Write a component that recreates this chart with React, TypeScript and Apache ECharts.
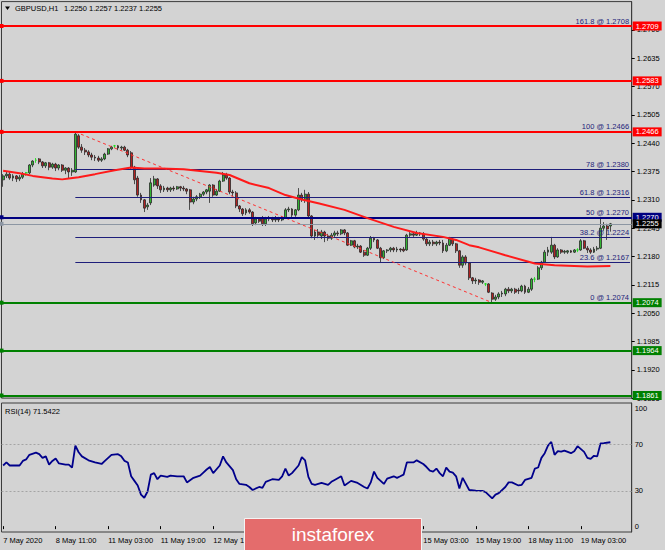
import React, { useEffect, useRef } from "react";
import * as echarts from "echarts";

// ---------- texts ----------
const SYMBOL = "GBPUSD,H1";
const OHLC_HEADER = ["1.2250", "1.2257", "1.2237", "1.2255"];
const RSI_LABEL = "RSI(14) 71.5422";
const LOGO_TEXT = "instaforex";

// ---------- x axis ----------
const X_TICK_LABELS = [
  "7 May 2020", "8 May 11:00", "11 May 03:00", "11 May 19:00", "12 May 11:00", "13 May 03:00",
  "13 May 19:00", "14 May 11:00", "15 May 03:00", "15 May 19:00", "18 May 11:00", "19 May 03:00",
];
const X_TICK_STEP = 16;
const SLOT_COUNT = 192;

// ---------- price axis ----------
const PRICE_AXIS_BASE = 1.1855;
const PRICE_AXIS_STEP = 0.0065;
const PRICE_AXIS_TOP = 1.2765;

// ---------- candles: [open, close, low, high] ----------
const CANDLES: number[][] = [
  [1.2356, 1.2365, 1.2340, 1.2369], [1.2365, 1.2369, 1.2360, 1.2374], [1.2369, 1.2360, 1.2356, 1.2374], [1.2360, 1.2365, 1.2353, 1.2369],
  [1.2365, 1.2358, 1.2351, 1.2367], [1.2358, 1.2362, 1.2353, 1.2367], [1.2362, 1.2369, 1.2358, 1.2374], [1.2372, 1.2372, 1.2365, 1.2374],
  [1.2372, 1.2390, 1.2369, 1.2392], [1.2390, 1.2399, 1.2385, 1.2401], [1.2401, 1.2401, 1.2395, 1.2406], [1.2404, 1.2397, 1.2392, 1.2406],
  [1.2397, 1.2388, 1.2383, 1.2399], [1.2388, 1.2395, 1.2383, 1.2397], [1.2395, 1.2385, 1.2378, 1.2397], [1.2385, 1.2392, 1.2381, 1.2395],
  [1.2392, 1.2383, 1.2376, 1.2395], [1.2383, 1.2390, 1.2378, 1.2392], [1.2390, 1.2378, 1.2374, 1.2392], [1.2378, 1.2383, 1.2369, 1.2385],
  [1.2383, 1.2374, 1.2358, 1.2385], [1.2374, 1.2378, 1.2365, 1.2383], [1.2374, 1.2461, 1.2372, 1.2466], [1.2457, 1.2431, 1.2427, 1.2461],
  [1.2431, 1.2424, 1.2418, 1.2438], [1.2424, 1.2420, 1.2413, 1.2429], [1.2420, 1.2413, 1.2408, 1.2424], [1.2413, 1.2408, 1.2401, 1.2418],
  [1.2408, 1.2406, 1.2399, 1.2413], [1.2406, 1.2401, 1.2397, 1.2411], [1.2401, 1.2404, 1.2397, 1.2408], [1.2404, 1.2415, 1.2401, 1.2418],
  [1.2415, 1.2427, 1.2413, 1.2429], [1.2427, 1.2431, 1.2424, 1.2434], [1.2434, 1.2434, 1.2429, 1.2436], [1.2434, 1.2429, 1.2424, 1.2436],
  [1.2429, 1.2431, 1.2424, 1.2434], [1.2431, 1.2424, 1.2422, 1.2434], [1.2424, 1.2413, 1.2408, 1.2427], [1.2418, 1.2385, 1.2381, 1.2422],
  [1.2385, 1.2356, 1.2346, 1.2388], [1.2360, 1.2321, 1.2317, 1.2365], [1.2321, 1.2310, 1.2303, 1.2326], [1.2310, 1.2291, 1.2282, 1.2312],
  [1.2294, 1.2298, 1.2287, 1.2303], [1.2303, 1.2349, 1.2298, 1.2360], [1.2344, 1.2358, 1.2340, 1.2365], [1.2358, 1.2342, 1.2335, 1.2360],
  [1.2342, 1.2333, 1.2326, 1.2346], [1.2333, 1.2337, 1.2328, 1.2342], [1.2337, 1.2333, 1.2328, 1.2340], [1.2333, 1.2337, 1.2328, 1.2340],
  [1.2337, 1.2335, 1.2330, 1.2342], [1.2335, 1.2340, 1.2333, 1.2342], [1.2340, 1.2337, 1.2330, 1.2342], [1.2337, 1.2335, 1.2330, 1.2342],
  [1.2335, 1.2330, 1.2323, 1.2337], [1.2333, 1.2305, 1.2287, 1.2335], [1.2305, 1.2312, 1.2300, 1.2317], [1.2312, 1.2317, 1.2307, 1.2321],
  [1.2317, 1.2323, 1.2312, 1.2326], [1.2323, 1.2328, 1.2319, 1.2330], [1.2328, 1.2333, 1.2323, 1.2335], [1.2330, 1.2344, 1.2303, 1.2346],
  [1.2344, 1.2321, 1.2317, 1.2346], [1.2321, 1.2330, 1.2319, 1.2335], [1.2330, 1.2353, 1.2328, 1.2356], [1.2353, 1.2367, 1.2351, 1.2374],
  [1.2367, 1.2360, 1.2356, 1.2372], [1.2360, 1.2328, 1.2323, 1.2362], [1.2328, 1.2326, 1.2319, 1.2333], [1.2326, 1.2296, 1.2291, 1.2330],
  [1.2296, 1.2289, 1.2282, 1.2298], [1.2289, 1.2278, 1.2273, 1.2291], [1.2280, 1.2287, 1.2275, 1.2291], [1.2287, 1.2282, 1.2278, 1.2291],
  [1.2282, 1.2255, 1.2250, 1.2284], [1.2257, 1.2266, 1.2252, 1.2271], [1.2266, 1.2261, 1.2257, 1.2268], [1.2268, 1.2255, 1.2250, 1.2273],
  [1.2255, 1.2266, 1.2250, 1.2271], [1.2266, 1.2268, 1.2261, 1.2273], [1.2268, 1.2264, 1.2259, 1.2271], [1.2264, 1.2266, 1.2259, 1.2273],
  [1.2266, 1.2264, 1.2259, 1.2271], [1.2264, 1.2268, 1.2261, 1.2273], [1.2268, 1.2287, 1.2266, 1.2291], [1.2287, 1.2289, 1.2282, 1.2294],
  [1.2289, 1.2275, 1.2268, 1.2291], [1.2275, 1.2287, 1.2271, 1.2289], [1.2287, 1.2321, 1.2284, 1.2337], [1.2321, 1.2310, 1.2305, 1.2326],
  [1.2310, 1.2323, 1.2303, 1.2333], [1.2323, 1.2273, 1.2268, 1.2328], [1.2273, 1.2227, 1.2222, 1.2275], [1.2227, 1.2236, 1.2218, 1.2241],
  [1.2236, 1.2229, 1.2222, 1.2243], [1.2227, 1.2236, 1.2220, 1.2241], [1.2236, 1.2227, 1.2213, 1.2239], [1.2227, 1.2222, 1.2216, 1.2232],
  [1.2222, 1.2229, 1.2218, 1.2234], [1.2229, 1.2234, 1.2225, 1.2239], [1.2234, 1.2232, 1.2227, 1.2239], [1.2232, 1.2241, 1.2229, 1.2243],
  [1.2241, 1.2234, 1.2229, 1.2243], [1.2234, 1.2206, 1.2204, 1.2236], [1.2206, 1.2216, 1.2204, 1.2218], [1.2216, 1.2202, 1.2199, 1.2218],
  [1.2202, 1.2204, 1.2197, 1.2209], [1.2204, 1.2190, 1.2188, 1.2206], [1.2190, 1.2183, 1.2179, 1.2195], [1.2183, 1.2199, 1.2181, 1.2202],
  [1.2199, 1.2222, 1.2195, 1.2227], [1.2222, 1.2218, 1.2213, 1.2225], [1.2218, 1.2199, 1.2197, 1.2220], [1.2199, 1.2177, 1.2165, 1.2202],
  [1.2177, 1.2193, 1.2174, 1.2195], [1.2193, 1.2195, 1.2188, 1.2197], [1.2195, 1.2199, 1.2190, 1.2202], [1.2199, 1.2195, 1.2190, 1.2202],
  [1.2195, 1.2197, 1.2190, 1.2202], [1.2197, 1.2195, 1.2190, 1.2199], [1.2197, 1.2193, 1.2190, 1.2202], [1.2195, 1.2229, 1.2193, 1.2232],
  [1.2229, 1.2232, 1.2225, 1.2236], [1.2232, 1.2229, 1.2225, 1.2234], [1.2229, 1.2234, 1.2227, 1.2239], [1.2234, 1.2232, 1.2227, 1.2236],
  [1.2232, 1.2220, 1.2216, 1.2236], [1.2220, 1.2209, 1.2204, 1.2222], [1.2209, 1.2213, 1.2204, 1.2218], [1.2213, 1.2209, 1.2204, 1.2218],
  [1.2209, 1.2213, 1.2204, 1.2216], [1.2213, 1.2211, 1.2206, 1.2218], [1.2211, 1.2193, 1.2188, 1.2218], [1.2193, 1.2206, 1.2190, 1.2211],
  [1.2206, 1.2220, 1.2204, 1.2225], [1.2220, 1.2209, 1.2204, 1.2222], [1.2209, 1.2193, 1.2188, 1.2211], [1.2193, 1.2160, 1.2154, 1.2195],
  [1.2160, 1.2179, 1.2154, 1.2183], [1.2179, 1.2165, 1.2160, 1.2183], [1.2165, 1.2131, 1.2126, 1.2167], [1.2131, 1.2124, 1.2117, 1.2133],
  [1.2124, 1.2126, 1.2117, 1.2131], [1.2126, 1.2121, 1.2115, 1.2128], [1.2121, 1.2124, 1.2117, 1.2126], [1.2117, 1.2117, 1.2112, 1.2119],
  [1.2117, 1.2098, 1.2096, 1.2119], [1.2096, 1.2082, 1.2075, 1.2098], [1.2082, 1.2087, 1.2078, 1.2092], [1.2087, 1.2094, 1.2082, 1.2098],
  [1.2094, 1.2096, 1.2087, 1.2101], [1.2094, 1.2105, 1.2089, 1.2108], [1.2105, 1.2101, 1.2096, 1.2110], [1.2101, 1.2105, 1.2096, 1.2108],
  [1.2105, 1.2098, 1.2094, 1.2108], [1.2103, 1.2101, 1.2094, 1.2108], [1.2101, 1.2112, 1.2098, 1.2115], [1.2112, 1.2098, 1.2094, 1.2115],
  [1.2098, 1.2105, 1.2096, 1.2110], [1.2105, 1.2128, 1.2101, 1.2131], [1.2128, 1.2128, 1.2121, 1.2133], [1.2128, 1.2154, 1.2126, 1.2158],
  [1.2154, 1.2167, 1.2149, 1.2170], [1.2167, 1.2190, 1.2165, 1.2195], [1.2190, 1.2195, 1.2181, 1.2202], [1.2190, 1.2206, 1.2186, 1.2225],
  [1.2206, 1.2179, 1.2174, 1.2209], [1.2179, 1.2195, 1.2177, 1.2199], [1.2195, 1.2190, 1.2186, 1.2197], [1.2190, 1.2192, 1.2186, 1.2195],
  [1.2190, 1.2193, 1.2186, 1.2195], [1.2193, 1.2190, 1.2188, 1.2195], [1.2190, 1.2195, 1.2188, 1.2197], [1.2195, 1.2195, 1.2190, 1.2199],
  [1.2195, 1.2216, 1.2193, 1.2220], [1.2216, 1.2199, 1.2197, 1.2218], [1.2199, 1.2195, 1.2188, 1.2204], [1.2195, 1.2190, 1.2186, 1.2199],
  [1.2190, 1.2197, 1.2188, 1.2202], [1.2197, 1.2199, 1.2193, 1.2204], [1.2199, 1.2245, 1.2197, 1.2271], [1.2245, 1.2250, 1.2239, 1.2259],
  [1.2250, 1.2243, 1.2218, 1.2255], [1.2250, 1.2255, 1.2237, 1.2257],
];

// ---------- moving average [bar index, price] ----------
const MA_POINTS: number[][] = [
  [0, 1.2377], [5, 1.2371], [9, 1.2365], [15, 1.2359], [18, 1.2357], [20, 1.2359], [23, 1.2362], [28, 1.2369],
  [34, 1.2378], [39, 1.2384], [43, 1.2382], [48, 1.2382], [55, 1.2380], [65, 1.2372], [69, 1.2367], [75, 1.2348],
  [81, 1.2337], [86, 1.2321], [91, 1.2311], [96, 1.2302], [104, 1.2287], [111, 1.2268], [119, 1.2248], [126, 1.2234],
  [134, 1.2225], [138, 1.2218], [142, 1.2206], [145, 1.2201], [153, 1.2183], [162, 1.2164], [168, 1.2160], [178, 1.2157],
  [185, 1.2158],
];

// ---------- RSI(14) [bar index, value] ----------
const RSI_POINTS: number[][] = [
  [0, 51.7], [1, 54.3], [2, 51.7], [3, 51.7], [5, 51.7], [6, 55.6], [7, 56.9], [8, 60.8], [10, 62.7], [11, 61.4],
  [12, 58.2], [13, 59.5], [14, 52.5], [15, 55.6], [16, 57.7], [17, 53.5], [19, 52.5], [20, 52.5], [21, 49.9], [22, 68.7],
  [23, 63], [24, 59.5], [26, 56.1], [28, 54.3], [30, 53], [31, 55.6], [33, 60.8], [35, 61.4], [36, 59.5], [37, 55.6],
  [38, 54.3], [39, 42.5], [40, 38.6], [41, 34.7], [42, 26.9], [43, 24.2], [44, 29.5], [45, 43.9], [46, 45.2], [47, 40],
  [48, 43.1], [50, 42], [51, 43.1], [53, 42.5], [55, 42.5], [56, 37.3], [58, 41.2], [60, 43.1], [61, 45.7], [62, 48.3],
  [63, 50.4], [64, 45.2], [66, 51.7], [67, 59.5], [68, 54.3], [70, 47.8], [71, 40], [72, 36], [74, 35.2], [75, 33.4],
  [76, 30.8], [78, 33.4], [79, 32.6], [80, 37.8], [82, 40], [84, 39.4], [85, 42.5], [86, 49.1], [87, 43.1], [88, 45.2],
  [90, 51.7], [91, 58.8], [92, 56], [93, 42], [94, 36], [95, 35.2], [97, 36.8], [99, 35.2], [100, 37.8], [101, 39.4],
  [103, 42.5], [104, 34.7], [106, 38.6], [108, 36.8], [110, 33.4], [111, 32.1], [112, 37.3], [113, 46.5], [114, 41.2], [115, 38.6],
  [116, 36], [117, 40.5], [119, 42.5], [120, 41.2], [121, 42.5], [122, 43.9], [123, 54.3], [125, 54.3], [126, 56.1], [128, 53],
  [129, 50.4], [130, 47.3], [131, 46.5], [132, 49.1], [133, 45.2], [134, 42.5], [135, 49.9], [136, 46.5], [137, 45.7], [138, 42.5],
  [139, 32.1], [140, 41.2], [141, 36], [142, 30.8], [144, 30.3], [146, 30], [147, 29], [149, 23.7], [150, 26.9], [151, 28.2],
  [153, 33.4], [154, 37.3], [155, 37.3], [157, 34.7], [158, 35.2], [159, 39.4], [161, 41.2], [162, 49.1], [163, 50], [164, 58.2],
  [165, 62.2], [166, 68.7], [167, 71.8], [168, 60.8], [169, 63.9], [170, 63.5], [171, 64.4], [173, 62.2], [174, 63.9], [175, 68.2],
  [177, 63.3], [178, 58.2], [179, 57.4], [180, 60], [181, 59.5], [182, 70.5], [183, 70.8], [185, 71.5422],
];
const RSI_TICKS = [0, 30, 70, 100];
const RSI_LEVELS = [70, 30];

// ---------- drawn objects ----------
const RED_LEVELS = [1.2709, 1.2583, 1.2466];
const GREEN_LEVELS = [1.2074, 1.1964, 1.1861];
const BLUE_LEVEL = 1.2270;
const BID_PRICE = 1.2255;
const SQUARE_LEVELS = [1.2709, 1.2466, 1.2270];
const FIB_LEVELS = [0, 23.6, 38.2, 50, 61.8, 78, 100, 161.8];
const FIB_PRICES = [1.2074, 1.2167, 1.2224, 1.2270, 1.2316, 1.2380, 1.2466, 1.2708];
const FIB_START_INDEX = 22;
const TREND_FROM = [22, 1.2466];
const TREND_TO = [149, 1.2074];

// ---------- style ----------
const FONT = '"Liberation Sans", Arial, sans-serif';
const BG = "#d3d3d3";
const FRAME = "#3c3c3c";
const RED = "#ff0000";
const GREEN = "#008000";
const NAVY = "#000080";
const FIB = "#1e1e7a";
const BID = "#8c96a3";

const toPips = (p: number) => Math.round((p - PRICE_AXIS_BASE) * 100000) / 10;
const fromPips = (v: number) => PRICE_AXIS_BASE + v / 10000;

const boxLabel = (p: number, bg: string) => ({
  show: true,
  position: "end",
  distance: 1,
  formatter: p.toFixed(4),
  backgroundColor: bg,
  color: "#ffffff",
  fontSize: 7.5,
  fontFamily: FONT,
  padding: [1, 3, 0, 3],
  lineHeight: 8,
});

const levelLine = (p: number, color: string, width: number) => ({
  yAxis: toPips(p),
  symbol: SQUARE_LEVELS.includes(p) ? ["emptyRect", "none"] : ["none", "none"],
  symbolSize: 4,
  symbolOffset: [[2, 0], [0, 0]],
  lineStyle: { color, width, type: "solid" },
  label: boxLabel(p, color === BID ? "#000000" : color),
});

export default function App() {
  const ref = useRef<HTMLDivElement>(null);

  useEffect(() => {
    if (!ref.current) return;
    const chart = echarts.init(ref.current, null, { renderer: "svg", width: 665, height: 550 });

    const categories = Array.from({ length: SLOT_COUNT }, (_, i) => String(i));
    const tickFn = (index: number) => index % X_TICK_STEP === 0 && index / X_TICK_STEP < X_TICK_LABELS.length;

    const fibLines = FIB_LEVELS.map((lvl, k) => [
      {
        coord: [FIB_START_INDEX, toPips(FIB_PRICES[k])],
        symbol: "none",
        lineStyle: { color: FIB, width: 1, type: "solid" },
        label: {
          show: true,
          position: "insideEndTop",
          distance: [1, 1],
          formatter: `${lvl} @ ${FIB_PRICES[k].toFixed(4)}`,
          color: FIB,
          fontSize: 7.5,
          fontFamily: FONT,
        },
      },
      { coord: [SLOT_COUNT - 1, toPips(FIB_PRICES[k])], symbol: "none" },
    ]);

    const trendLine = [
      {
        coord: [TREND_FROM[0], toPips(TREND_FROM[1])],
        symbol: "none",
        lineStyle: { color: "#ff3030", width: 1, type: [3, 3] },
        label: { show: false },
      },
      { coord: [TREND_TO[0], toPips(TREND_TO[1])], symbol: "none" },
    ];

    const option: any = {
      animation: false,
      backgroundColor: BG,
      textStyle: { fontFamily: FONT },
      grid: [
        { left: 1.5, top: 1.6, width: 630.2, height: 396.5, show: true, borderColor: FRAME, borderWidth: 1 },
        { left: 1.5, top: 403, width: 630.2, height: 129, show: true, borderColor: FRAME, borderWidth: 1 },
      ],
      xAxis: [
        {
          type: "category", gridIndex: 0, data: categories, boundaryGap: true,
          axisLine: { show: false }, axisTick: { show: false }, axisLabel: { show: false }, splitLine: { show: false },
        },
        {
          type: "category", gridIndex: 1, data: categories, boundaryGap: true,
          axisLine: { show: false },
          axisTick: { show: true, interval: tickFn, alignWithLabel: true, length: 3, lineStyle: { color: "#000" } },
          axisLabel: {
            interval: tickFn,
            formatter: (_v: string, i: number) => X_TICK_LABELS[i / X_TICK_STEP] ?? "",
            align: "left", fontSize: 7.5, color: "#000", margin: 4, fontFamily: FONT,
          },
          splitLine: { show: false },
        },
      ],
      yAxis: [
        {
          type: "value", gridIndex: 0, position: "right",
          min: 0, max: toPips(PRICE_AXIS_TOP), interval: toPips(PRICE_AXIS_BASE + PRICE_AXIS_STEP),
          axisLine: { show: true, lineStyle: { color: FRAME } },
          axisTick: { show: true, length: 3, lineStyle: { color: "#000" } },
          axisLabel: {
            formatter: (v: number) => fromPips(v).toFixed(4),
            fontSize: 7.5, color: "#000", margin: 5, showMaxLabel: false, fontFamily: FONT,
          },
          splitLine: { show: false },
        },
        {
          type: "value", gridIndex: 1, position: "right", min: -5, max: 105, interval: 5,
          axisLine: { show: true, lineStyle: { color: FRAME } },
          axisTick: { show: false },
          axisLabel: {
            formatter: (v: number) => (RSI_TICKS.includes(v) ? String(v) : ""),
            fontSize: 7.5, color: "#000", margin: 3, fontFamily: FONT,
          },
          splitLine: { show: false },
        },
      ],
      series: [
        {
          type: "candlestick",
          xAxisIndex: 0, yAxisIndex: 0,
          data: CANDLES.map((c) => c.map(toPips)),
          barWidth: 2.4,
          itemStyle: {
            color: "#32b432", color0: "#b22222",
            borderColor: "#2a2a2a", borderColor0: "#2a2a2a", borderColorDoji: "#10e010",
            borderWidth: 0.8,
          },
          markLine: {
            silent: true,
            animation: false,
            symbol: ["none", "none"],
            data: [
              ...fibLines,
              trendLine,
              ...RED_LEVELS.map((p) => levelLine(p, RED, 2)),
              ...GREEN_LEVELS.map((p) => levelLine(p, GREEN, 2)),
              levelLine(BLUE_LEVEL, NAVY, 2),
              levelLine(BID_PRICE, BID, 1),
            ],
          },
        },
        {
          type: "line",
          xAxisIndex: 0, yAxisIndex: 0,
          data: MA_POINTS.map(([i, p]) => [i, toPips(p)]),
          showSymbol: false, symbol: "none",
          lineStyle: { color: "#ff1a1a", width: 2 },
          z: 6,
        },
        {
          type: "line",
          xAxisIndex: 1, yAxisIndex: 1,
          data: RSI_POINTS,
          showSymbol: false, symbol: "none",
          lineStyle: { color: "#00008b", width: 1.8 },
          markLine: {
            silent: true, animation: false, symbol: ["none", "none"], label: { show: false },
            lineStyle: { color: "#a4a4a4", width: 1, type: [2, 2] },
            data: RSI_LEVELS.map((v) => ({ yAxis: v })),
          },
        },
      ],
      graphic: [
        { type: "polygon", shape: { points: [[5, 6.5], [10, 6.5], [7.5, 10]] }, style: { fill: "#000" }, silent: true },
        { type: "text", x: 15, y: 8.5, style: { text: SYMBOL, fill: "#000", font: `7.5px ${FONT}`, verticalAlign: "middle" } },
        { type: "text", x: 64, y: 8.5, style: { text: OHLC_HEADER.join(" "), fill: "#000", font: `7.5px ${FONT}`, verticalAlign: "middle" } },
        { type: "text", x: 5, y: 411, style: { text: RSI_LABEL, fill: "#000", font: `7.5px ${FONT}`, verticalAlign: "middle" } },
        {
          type: "rect", z: 100, silent: true,
          shape: { x: 244.5, y: 518.5, width: 177, height: 33 },
          style: { fill: "#e46c6c", stroke: "#f4f4f4", lineWidth: 1 },
        },
        {
          type: "text", z: 101, x: 333, y: 534, silent: true,
          style: { text: LOGO_TEXT, fill: "#ffffff", font: `19px ${FONT}`, align: "center", verticalAlign: "middle" },
        },
      ],
    };

    chart.setOption(option);
    return () => chart.dispose();
  }, []);

  return (
    <div
      ref={ref}
      style={{ position: "fixed", left: 0, top: 0, width: 665, height: 550, background: BG }}
    />
  );
}
